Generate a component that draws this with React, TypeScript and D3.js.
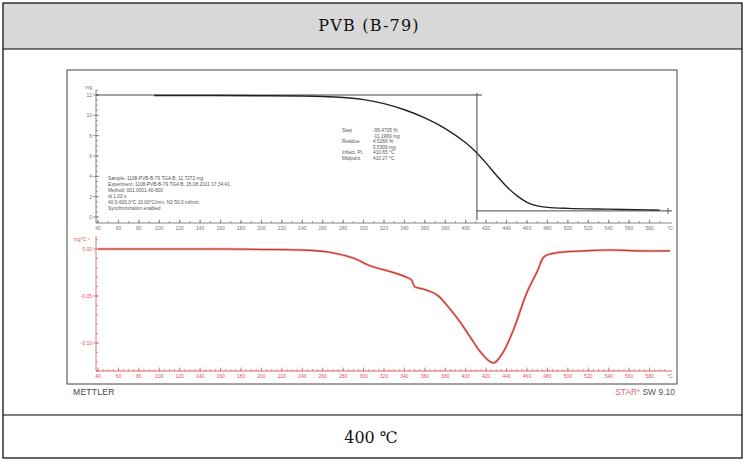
import React from "react";
import * as d3 from "d3";

// ---- data ----
const title = "PVB (B-79)";
const footer = "400 ℃";

const tgaTemp = [95, 150, 200, 240, 260, 280, 300, 320, 340, 360, 380, 400, 410, 420, 430, 440, 450, 460, 470, 480, 500, 540, 580, 590];
const tgaMass = [11.95, 11.95, 11.93, 11.9, 11.85, 11.75, 11.55, 11.15, 10.55, 9.75, 8.7, 7.3, 6.4, 5.3, 4.1, 3.0, 2.1, 1.45, 1.1, 0.95, 0.85, 0.77, 0.7, 0.68];

const dtgTemp = [40, 100, 160, 200, 238, 264, 290, 306, 326, 342, 347, 350, 358, 372, 384, 394, 404, 414, 424, 428, 436, 446, 460, 470, 477, 489, 515, 541, 570, 600];
const dtgRate = [0, 0, 0, -0.0005, -0.001, -0.003, -0.0096, -0.0178, -0.024, -0.03, -0.033, -0.04, -0.0425, -0.0489, -0.063, -0.077, -0.093, -0.109, -0.12, -0.121, -0.111, -0.088, -0.046, -0.024, -0.008, -0.004, -0.002, -0.001, -0.002, -0.002];

const xTickValues = d3.range(40, 600, 20);
const tgaYTicks = [0, 2, 4, 6, 8, 10, 12];
const dtgYTicks = [0, -0.05, -0.1];
const dtgYTickLabels = ["0.00", "-0.05", "-0.10"];

const sampleInfo = [
  "Sample: 1108-PVB-B-79 TGA B, 11.7272 mg",
  "Experiment: 1108-PVB-B-79 TGA B, 15.08.2011 17:34:41",
  "Method: 001.0001.40-600",
  "dt 1.00 s",
  "   40.0-600.0°C 10.00°C/min, N2 50.0 ml/min",
  "Synchronization enabled",
];
const evalLabels = ["Step", "", "Residue", "", "Inflect. Pt.", "Midpoint"];
const evalValues = ["-95.4735 %", "-11.1969 mg", "4.5266 %", "0.5309 mg", "410.65 °C", "410.27 °C"];

const stepTemp = 411;
const stepTop = 12;
const stepBottom = 0.6;

export default function App() {
  const W = 745, H = 465;
  const x = d3.scaleLinear().domain([40, 600]).range([98, 670]);
  const yT = d3.scaleLinear().domain([0, 12]).range([217, 95]);
  const yD = d3.scaleLinear().domain([0, -0.05]).range([249, 296]);

  const tgaLine = d3
    .line<number>()
    .x((_, i) => x(tgaTemp[i]))
    .y((d) => yT(d))
    .curve(d3.curveCatmullRom.alpha(0.5));
  const dtgLine = d3
    .line<number>()
    .x((_, i) => x(dtgTemp[i]))
    .y((d) => yD(d))
    .curve(d3.curveCatmullRom.alpha(0.5));

  const axisY1 = 223;
  const axisY2 = 371;
  const axisX = 96;
  const minor10 = d3.range(40, 600, 10);
  const minor5 = d3.range(40, 600, 5);
  const tgaMinor = d3.range(-0.5, 12.6, 0.5);
  const dtgMinor = d3.range(0.01, -0.131, -0.01);

  const gray = "#666";
  const red = "#d9534f";
  const tickFont = { fontFamily: "Arial, 'Liberation Sans', sans-serif", fontSize: 5 };
  const serif = "'DejaVu Serif', 'Liberation Serif', serif";

  return (
    <svg width={W} height={H} style={{ position: "absolute", left: 0, top: 0, background: "#fff" }}>
      {/* table */}
      <rect x={3} y={3} width={739} height={46} fill="#d8d8d8" />
      <rect x={3} y={3} width={739} height={455} fill="none" stroke="#000" strokeWidth={1.2} />
      <line x1={3} x2={742} y1={49} y2={49} stroke="#000" strokeWidth={1.2} />
      <line x1={3} x2={742} y1={415} y2={415} stroke="#000" strokeWidth={1.2} />
      <text x={369} y={31} textAnchor="middle" fontFamily={serif} fontSize={16} letterSpacing={1.2} fill="#111">
        {title}
      </text>
      <text x={371} y={443} textAnchor="middle" fontFamily={serif} fontSize={16} fill="#111" xmlSpace="preserve">
        {footer}
      </text>

      {/* chart frame */}
      <rect x={67} y={70} width={610} height={314} fill="#fff" stroke="#444" strokeWidth={1} />

      {/* ---------- TGA (upper) ---------- */}
      <line x1={axisX} x2={axisX} y1={90} y2={axisY1} stroke={gray} strokeWidth={0.8} />
      {tgaMinor.map((v) => (
        <line key={"tm" + v} x1={axisX} x2={axisX + 2} y1={yT(v)} y2={yT(v)} stroke={gray} strokeWidth={0.6} />
      ))}
      {tgaYTicks.map((v) => (
        <g key={"ty" + v}>
          <line x1={axisX - 3} x2={axisX + 3} y1={yT(v)} y2={yT(v)} stroke={gray} strokeWidth={0.7} />
          <text x={axisX - 4} y={yT(v) + 2} textAnchor="end" {...tickFont} fill="#777">
            {v}
          </text>
        </g>
      ))}
      <text x={axisX - 4} y={89} textAnchor="end" {...tickFont} fill="#777">mg</text>

      <line x1={axisX} x2={672} y1={axisY1} y2={axisY1} stroke={gray} strokeWidth={0.8} />
      {minor10.map((v) => (
        <line key={"xm" + v} x1={x(v)} x2={x(v)} y1={axisY1} y2={axisY1 - 2} stroke={gray} strokeWidth={0.6} />
      ))}
      {xTickValues.map((v) => (
        <g key={"xt" + v}>
          <line x1={x(v)} x2={x(v)} y1={axisY1} y2={axisY1 - 3.5} stroke={gray} strokeWidth={0.7} />
          <text x={x(v)} y={axisY1 + 7} textAnchor="middle" {...tickFont} fill="#777">
            {v}
          </text>
        </g>
      ))}
      <text x={x(600)} y={axisY1 + 7} textAnchor="middle" {...tickFont} fill="#777">°C</text>

      {/* step evaluation construction lines */}
      <line x1={axisX} x2={x(stepTemp + 5)} y1={yT(stepTop)} y2={yT(stepTop)} stroke="#333" strokeWidth={0.9} />
      <line x1={x(stepTemp)} x2={x(stepTemp)} y1={yT(stepTop) - 2} y2={yT(-0.3)} stroke="#333" strokeWidth={0.9} />
      <line x1={x(stepTemp)} x2={x(602)} y1={yT(stepBottom)} y2={yT(stepBottom)} stroke="#333" strokeWidth={0.9} />
      <line x1={x(598)} x2={x(598)} y1={yT(stepBottom) - 3} y2={yT(stepBottom) + 3} stroke="#333" strokeWidth={0.8} />

      <path d={tgaLine(tgaMass) || ""} fill="none" stroke="#222" strokeWidth={1.4} />

      {/* text blocks */}
      {sampleInfo.map((s, i) => (
        <text key={"si" + i} x={108} y={180 + i * 6} {...tickFont} fontSize={4.8} fill="#555">
          {s}
        </text>
      ))}
      {evalLabels.map((s, i) => (
        <text key={"el" + i} x={342} y={132 + i * 5.6} {...tickFont} fontSize={4.8} fill="#555">
          {s}
        </text>
      ))}
      {evalValues.map((s, i) => (
        <text key={"ev" + i} x={373} y={132 + i * 5.6} {...tickFont} fontSize={4.8} fill="#555">
          {s}
        </text>
      ))}

      {/* ---------- DTG (lower) ---------- */}
      <line x1={axisX} x2={axisX} y1={236} y2={axisY2} stroke={red} strokeWidth={0.8} />
      {dtgMinor.map((v, i) => (
        <line key={"dm" + i} x1={axisX} x2={axisX + 2} y1={yD(v)} y2={yD(v)} stroke={red} strokeWidth={0.6} />
      ))}
      {dtgYTicks.map((v, i) => (
        <g key={"dy" + i}>
          <line x1={axisX - 3} x2={axisX + 3} y1={yD(v)} y2={yD(v)} stroke={red} strokeWidth={0.7} />
          <text x={axisX - 4} y={yD(v) + 2} textAnchor="end" {...tickFont} fill={red}>
            {dtgYTickLabels[i]}
          </text>
        </g>
      ))}
      <text x={axisX - 6} y={241} textAnchor="end" {...tickFont} fill={red}>mg°C⁻¹</text>

      <line x1={axisX} x2={672} y1={axisY2} y2={axisY2} stroke={red} strokeWidth={0.9} />
      {minor5.map((v) => (
        <line key={"x2m" + v} x1={x(v)} x2={x(v)} y1={axisY2} y2={axisY2 - 2} stroke={red} strokeWidth={0.6} />
      ))}
      {xTickValues.map((v) => (
        <g key={"x2t" + v}>
          <line x1={x(v)} x2={x(v)} y1={axisY2} y2={axisY2 - 3.5} stroke={red} strokeWidth={0.7} />
          <text x={x(v)} y={axisY2 + 7} textAnchor="middle" {...tickFont} fill={red}>
            {v}
          </text>
        </g>
      ))}
      <text x={x(600)} y={axisY2 + 7} textAnchor="middle" {...tickFont} fill={red}>°C</text>

      <path d={dtgLine(dtgRate) || ""} fill="none" stroke="#f4a0a0" strokeWidth={2.4} />
      <path d={dtgLine(dtgRate) || ""} fill="none" stroke="#c0392b" strokeWidth={1.1} />

      {/* footer labels */}
      <text x={73} y={395} fontFamily="Arial, 'Liberation Sans', sans-serif" fontSize={8.5} fill="#444" letterSpacing={0.3}>
        METTLER
      </text>
      <text x={675} y={395} textAnchor="end" fontFamily="Arial, 'Liberation Sans', sans-serif" fontSize={8.5} fill="#555">
        <tspan fill="#e06b6b">STAR</tspan>
        <tspan fill="#e06b6b" fontSize={5} dy={-3}>e</tspan>
        <tspan dy={3}> SW 9.10</tspan>
      </text>
    </svg>
  );
}
